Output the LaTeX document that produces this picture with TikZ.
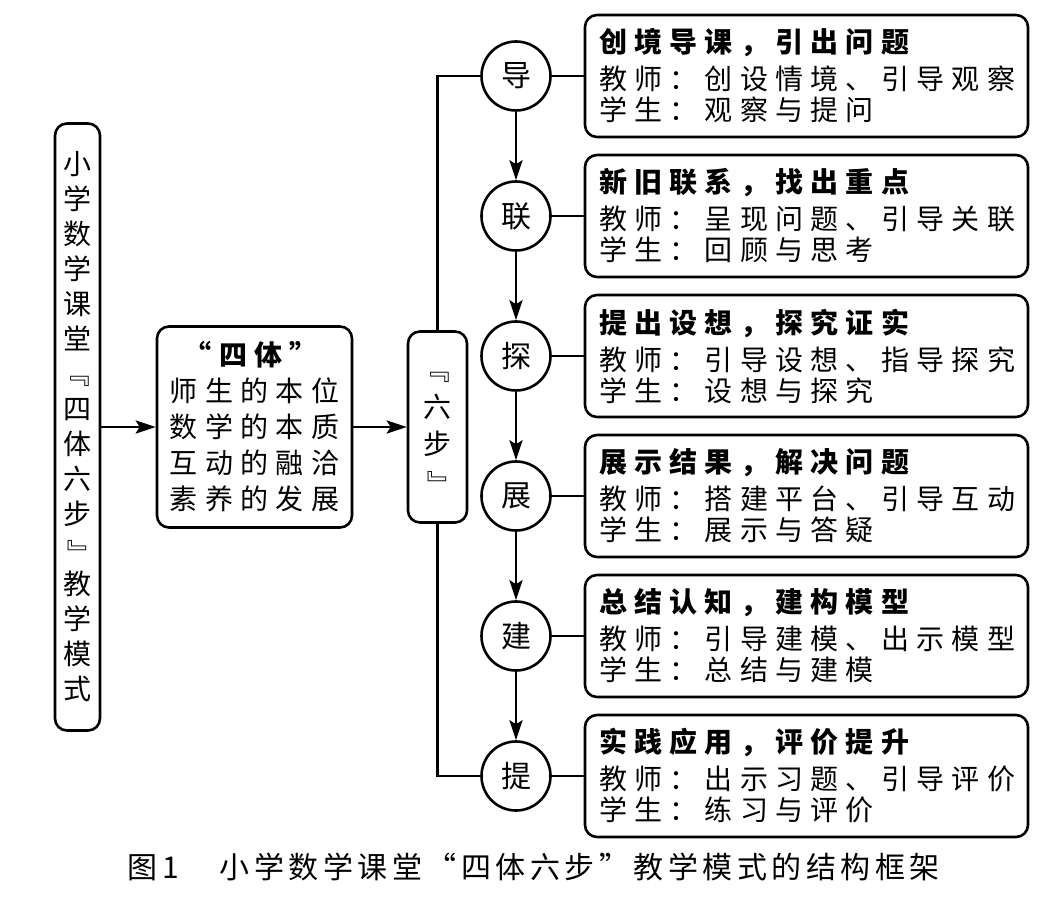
\documentclass[tikz,border=0pt]{standalone}
\usepackage{graphicx}
\usepackage{fontspec}
\setmainfont{Noto Sans CJK SC}
\newfontfamily\cjk[LetterSpace=26]{Noto Sans CJK SC}
\newfontfamily\cjkcap[LetterSpace=15]{Noto Sans CJK SC}
\usetikzlibrary{arrows.meta}
\newcommand{\vopen}{\rotatebox[origin=c]{-90}{『}}
\newcommand{\vclose}{\rotatebox[origin=c]{-90}{』}}

\begin{document}
\begin{tikzpicture}[x=0.5pt,y=-0.5pt,line width=1.3pt,
  >={Stealth[length=10pt,width=6.5pt,inset=2pt]},
  frame/.style={draw,rounded corners=6pt,inner sep=0pt,align=center},
  stepbox/.style={draw,rounded corners=6pt,minimum width=221.5pt,minimum height=61pt,
    text width=207.5pt,inner xsep=7pt,inner ysep=2pt,align=left,
    font=\cjk\fontsize{14}{15.5}\selectfont},
  stepcircle/.style={draw,circle,minimum size=34.5pt,inner sep=0pt,
    font=\fontsize{15}{15}\selectfont}]

\useasboundingbox (0,0) rectangle (1051,909);

% Model and frame
\node [frame,minimum width=22.5pt,minimum height=303.5pt,font=\fontsize{14}{17.5}\selectfont] (model) at (77.5,427)
  {小\\学\\数\\学\\课\\堂\\\vopen\\四\\体\\六\\步\\\vclose\\教\\学\\模\\式};
\node [frame,minimum width=97.5pt,minimum height=100.5pt,font=\cjk\fontsize{14}{18}\selectfont] (four) at (254.5,427)
  {\textbf{“四体”}\\师生的本位\\数学的本质\\互动的融洽\\素养的发展};
\node [frame,minimum width=29.5pt,minimum height=95.5pt,font=\fontsize{14}{18.5}\selectfont] (six) at (437.5,427)
  {\vopen\\六\\步\\\vclose};

\draw [->] (model) -- (four);
\draw [->] (four) -- (six);

%Steps
\node [stepcircle] (dao) at (516,76) {导};
\node [stepcircle] (lian) at (516,216) {联};
\node [stepcircle] (tan) at (516,356) {探};
\node [stepcircle] (zhan) at (516,496) {展};
\node [stepcircle] (jian) at (516,636) {建};
\node [stepcircle] (ti) at (516,776) {提};

\node [stepbox] (daobox) at (806.5,76) {\textbf{创境导课，引出问题}\\[3pt]教师：创设情境、引导观察\\学生：观察与提问};
\node [stepbox] (lianbox) at (806.5,216) {\textbf{新旧联系，找出重点}\\[3pt]教师：呈现问题、引导关联\\学生：回顾与思考};
\node [stepbox] (tanbox) at (806.5,356) {\textbf{提出设想，探究证实}\\[3pt]教师：引导设想、指导探究\\学生：设想与探究};
\node [stepbox] (zhanbox) at (806.5,496) {\textbf{展示结果，解决问题}\\[3pt]教师：搭建平台、引导互动\\学生：展示与答疑};
\node [stepbox] (jianbox) at (806.5,636) {\textbf{总结认知，建构模型}\\[3pt]教师：引导建模、出示模型\\学生：总结与建模};
\node [stepbox] (tibox) at (806.5,776) {\textbf{实践应用，评价提升}\\[3pt]教师：出示习题、引导评价\\学生：练习与评价};

\draw (six.north) |- (dao);
\draw (six.south) |- (ti);
\draw [->] (dao) -- (lian);
\draw [->] (lian) -- (tan);
\draw [->] (tan) -- (zhan);
\draw [->] (zhan) -- (jian);
\draw [->] (jian) -- (ti);
\draw (dao) -- (daobox);
\draw (lian) -- (lianbox);
\draw (tan) -- (tanbox);
\draw (zhan) -- (zhanbox);
\draw (jian) -- (jianbox);
\draw (ti) -- (tibox);

% Caption
\node [anchor=west,font=\cjkcap\fontsize{15}{15}\selectfont] (caption) at (120,867)
  {图\,1\hspace{20pt}小学数学课堂“四体六步”教学模式的结构框架};
\end{tikzpicture}
\end{document}
